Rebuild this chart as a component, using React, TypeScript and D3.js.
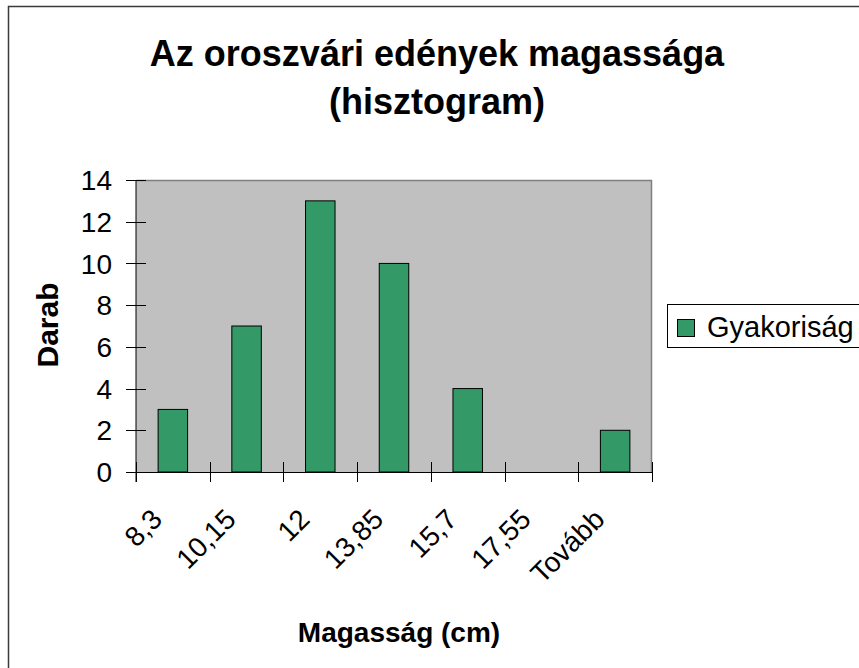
import { useRef, useEffect } from 'react';
import * as d3 from 'd3';

const categories = ['8,3', '10,15', '12', '13,85', '15,7', '17,55', 'Tovább'];
const counts = [3, 7, 13, 10, 4, 0, 2];
const yTicks = [0, 2, 4, 6, 8, 10, 12, 14];
const seriesName = 'Gyakoriság';

function App() {
  const svgRef = useRef<SVGSVGElement | null>(null);
  const width = 859;
  const height = 668;

  useEffect(() => {
    const font = 'Arial, "Liberation Sans", sans-serif';
    const plot = { left: 136, right: 652, top: 180, bottom: 472 };
    const svg = d3.select(svgRef.current).attr('viewBox', [0, 0, width, height]);
    svg.selectAll('*').remove();

    svg.append('rect').attr('width', width).attr('height', height).attr('fill', 'white');

    // outer chart border (runs off the right/bottom edge)
    svg
      .append('rect')
      .attr('x', 8.5)
      .attr('y', 6.5)
      .attr('width', width + 20)
      .attr('height', height + 20)
      .attr('fill', 'none')
      .attr('stroke', '#3a3a3a')
      .attr('stroke-width', 1.5);

    const xCat = d3.scaleBand().domain(categories).range([plot.left, plot.right]);
    const x = d3
      .scaleBand()
      .domain(categories)
      .range([plot.left, plot.right])
      .paddingInner(0.6)
      .paddingOuter(0.3);
    const y = d3.scaleLinear().domain([0, 14]).range([plot.bottom, plot.top]);

    // plot area
    svg
      .append('rect')
      .attr('x', plot.left)
      .attr('y', plot.top)
      .attr('width', plot.right - plot.left)
      .attr('height', plot.bottom - plot.top)
      .attr('fill', '#c0c0c0');
    svg
      .append('path')
      .attr('d', `M${plot.left},${plot.top + 0.5}H${plot.right - 0.5}V${plot.bottom}`)
      .attr('fill', 'none')
      .attr('stroke', '#808080')
      .attr('stroke-width', 1.5);

    // bars
    svg
      .selectAll('.bar')
      .data(counts)
      .join('rect')
      .attr('class', 'bar')
      .attr('x', (_, i) => x(categories[i])!)
      .attr('y', (d) => y(d))
      .attr('width', x.bandwidth())
      .attr('height', (d) => y(0) - y(d))
      .attr('fill', '#339966')
      .attr('stroke', 'black')
      .attr('stroke-width', 1)
      .attr('display', (d) => (d === 0 ? 'none' : null));

    // y axis
    svg
      .append('line')
      .attr('x1', plot.left)
      .attr('x2', plot.left)
      .attr('y1', plot.top)
      .attr('y2', plot.bottom + 10)
      .attr('stroke', 'black');
    svg
      .selectAll('.ytick')
      .data(yTicks)
      .join('line')
      .attr('class', 'ytick')
      .attr('x1', plot.left - 10)
      .attr('x2', plot.left + 10)
      .attr('y1', (d) => Math.round(y(d)) + 0.5)
      .attr('y2', (d) => Math.round(y(d)) + 0.5)
      .attr('stroke', 'black');
    svg
      .selectAll('.ylabel')
      .data(yTicks)
      .join('text')
      .attr('class', 'ylabel')
      .attr('x', 112)
      .attr('y', (d) => y(d))
      .attr('dy', '0.36em')
      .attr('text-anchor', 'end')
      .attr('font-family', font)
      .attr('font-size', 28)
      .text((d) => d);

    // x axis
    svg
      .append('line')
      .attr('x1', plot.left - 10)
      .attr('x2', plot.right)
      .attr('y1', plot.bottom + 0.5)
      .attr('y2', plot.bottom + 0.5)
      .attr('stroke', 'black');
    const boundaries = [...categories.map((c) => xCat(c)!), plot.right];
    svg
      .selectAll('.xtick')
      .data(boundaries)
      .join('line')
      .attr('class', 'xtick')
      .attr('x1', (d) => Math.round(d) + 0.5)
      .attr('x2', (d) => Math.round(d) + 0.5)
      .attr('y1', plot.bottom - 10)
      .attr('y2', plot.bottom + 10)
      .attr('stroke', 'black');
    svg
      .selectAll('.xlabel')
      .data(categories)
      .join('text')
      .attr('class', 'xlabel')
      .attr('transform', (d) => {
        const cx = xCat(d)! + xCat.bandwidth() / 2 - 9;
        return `translate(${cx},521) rotate(-45)`;
      })
      .attr('text-anchor', 'end')
      .attr('font-family', font)
      .attr('font-size', 28)
      .text((d) => d);

    // titles
    const title = svg
      .append('text')
      .attr('text-anchor', 'middle')
      .attr('font-family', font)
      .attr('font-weight', 'bold')
      .attr('font-size', 36);
    title.append('tspan').attr('x', 437).attr('y', 66).text('Az oroszvári edények magassága');
    title.append('tspan').attr('x', 437).attr('y', 114).text('(hisztogram)');

    svg
      .append('text')
      .attr('transform', 'translate(58,325) rotate(-90)')
      .attr('text-anchor', 'middle')
      .attr('font-family', font)
      .attr('font-weight', 'bold')
      .attr('font-size', 30)
      .text('Darab');

    svg
      .append('text')
      .attr('x', 399)
      .attr('y', 642)
      .attr('text-anchor', 'middle')
      .attr('font-family', font)
      .attr('font-weight', 'bold')
      .attr('font-size', 28)
      .text('Magasság (cm)');

    // legend
    const legend = svg.append('g').attr('transform', 'translate(667,304)');
    legend
      .append('rect')
      .attr('x', 0.5)
      .attr('y', 0.5)
      .attr('width', 220)
      .attr('height', 43)
      .attr('fill', 'white')
      .attr('stroke', 'black');
    legend
      .append('rect')
      .attr('x', 10.5)
      .attr('y', 15.5)
      .attr('width', 17)
      .attr('height', 17)
      .attr('fill', '#339966')
      .attr('stroke', 'black');
    legend
      .append('text')
      .attr('x', 40)
      .attr('y', 33)
      .attr('font-family', font)
      .attr('font-size', 29)
      .text(seriesName);
  }, []);

  return (
    <svg
      ref={svgRef}
      width={width}
      height={height}
      style={{ position: 'absolute', left: 0, top: 0, display: 'block' }}
    ></svg>
  );
}

export default App;
